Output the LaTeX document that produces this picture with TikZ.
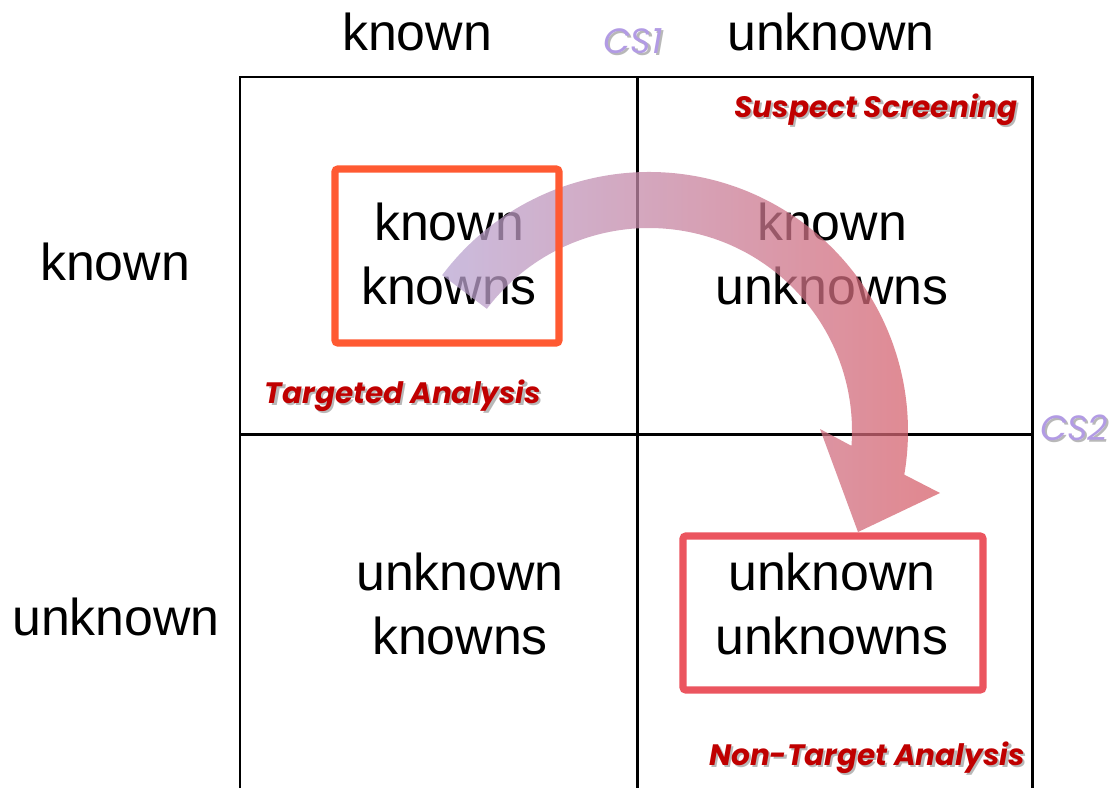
\documentclass[tikz,border=0pt]{standalone}
\usepackage{fontspec}
\setmainfont{Liberation Sans}
\newfontfamily\gothfont{Poppins}
\usetikzlibrary{calc,positioning}
\definecolor{labelred}{RGB}{192,0,0}
\definecolor{cslilac}{RGB}{178,155,228}
\definecolor{boxorange}{RGB}{255,90,50}
\definecolor{boxred}{RGB}{235,85,95}
\definecolor{arrowlilac}{RGB}{185,165,210}
\definecolor{arrowpink}{RGB}{228,170,195}
\definecolor{arrowred}{RGB}{215,95,105}
\newcommand{\castshadow}[2]{\makebox[0pt][l]{\kern1.3pt\raisebox{-1.3pt}{\textcolor{black!28}{#2}}}\textcolor{#1}{#2}}
\tikzset{
    grid/.style = {line width=1.7pt, line join=miter},
    axis/.style = {font=\fontsize{29.5}{36.9}\selectfont, inner sep=0pt},
    cell/.style = {font=\fontsize{29.5}{36.9}\selectfont, align=center, inner sep=0pt},
    method/.style = {font=\gothfont\bfseries\itshape\fontsize{16.8}{20}\selectfont, inner sep=0pt},
    cs/.style = {font=\gothfont\itshape\fontsize{20}{24}\selectfont, inner sep=0pt},
    hibox/.style = {draw=#1, line width=4pt, rounded corners=1.5pt},
    flow/.style = {left color=arrowlilac, middle color=arrowpink, right color=arrowred, fill opacity=0.75}
}

\begin{document}
\begin{tikzpicture}[x=0.02cm, y=0.02cm]
    \useasboundingbox (0,0) rectangle (1109,-788);

    % headers
    \node[axis, anchor=base] (colknown) at (417,-50) {known};
    \node[axis, anchor=base] (colunknown) at (831,-50) {unknown};
    \node[axis, anchor=base] (rowknown) at (115,-280) {known};
    \node[axis, anchor=base] (rowunknown) at (116,-635) {unknown};

    % matrix
    \draw[grid] (240,-788) -- (240,-77) -- (1032,-77) -- (1032,-788);
    \draw[grid] (637,-77) -- (637,-788);
    \draw[grid] (240,-434) -- (1032,-434);

    \node[cell] (kk) at (449,-254) {known\\knowns};
    \node[cell] (ku) at (832,-254) {known\\unknowns};
    \node[cell] (uk) at (460,-604) {unknown\\knowns};
    \node[cell] (uu) at (832,-604) {unknown\\unknowns};

    \node[method, anchor=base] (targeted) at (403,-403) {\castshadow{labelred}{Targeted Analysis}};
    \node[method, anchor=base] (suspect) at (876,-117) {\castshadow{labelred}{Suspect Screening}};
    \node[method, anchor=base] (nontarget) at (867,-765) {\castshadow{labelred}{Non-Target Analysis}};
    \node[cs, anchor=base] (cs1) at (633,-53) {\castshadow{cslilac}{CS1}};
    \node[cs, anchor=base] (cs2) at (1074,-440) {\castshadow{cslilac}{CS2}};

    % curved arrow
    \coordinate (pivot) at (649,-431);
    \shade[flow] ($(pivot)+(143:259)$) arc[start angle=143, end angle=-9.7, radius=259]
        -- (940,-493) -- (858,-532) -- (820,-429)
        -- ($(pivot)+(-4.2:203)$) arc[start angle=-4.2, end angle=143, radius=203] -- cycle;

    \draw[hibox=boxorange] (335,-169) rectangle (559,-343);
    \draw[hibox=boxred] (683,-536) rectangle (983,-690);
\end{tikzpicture}
\end{document}
